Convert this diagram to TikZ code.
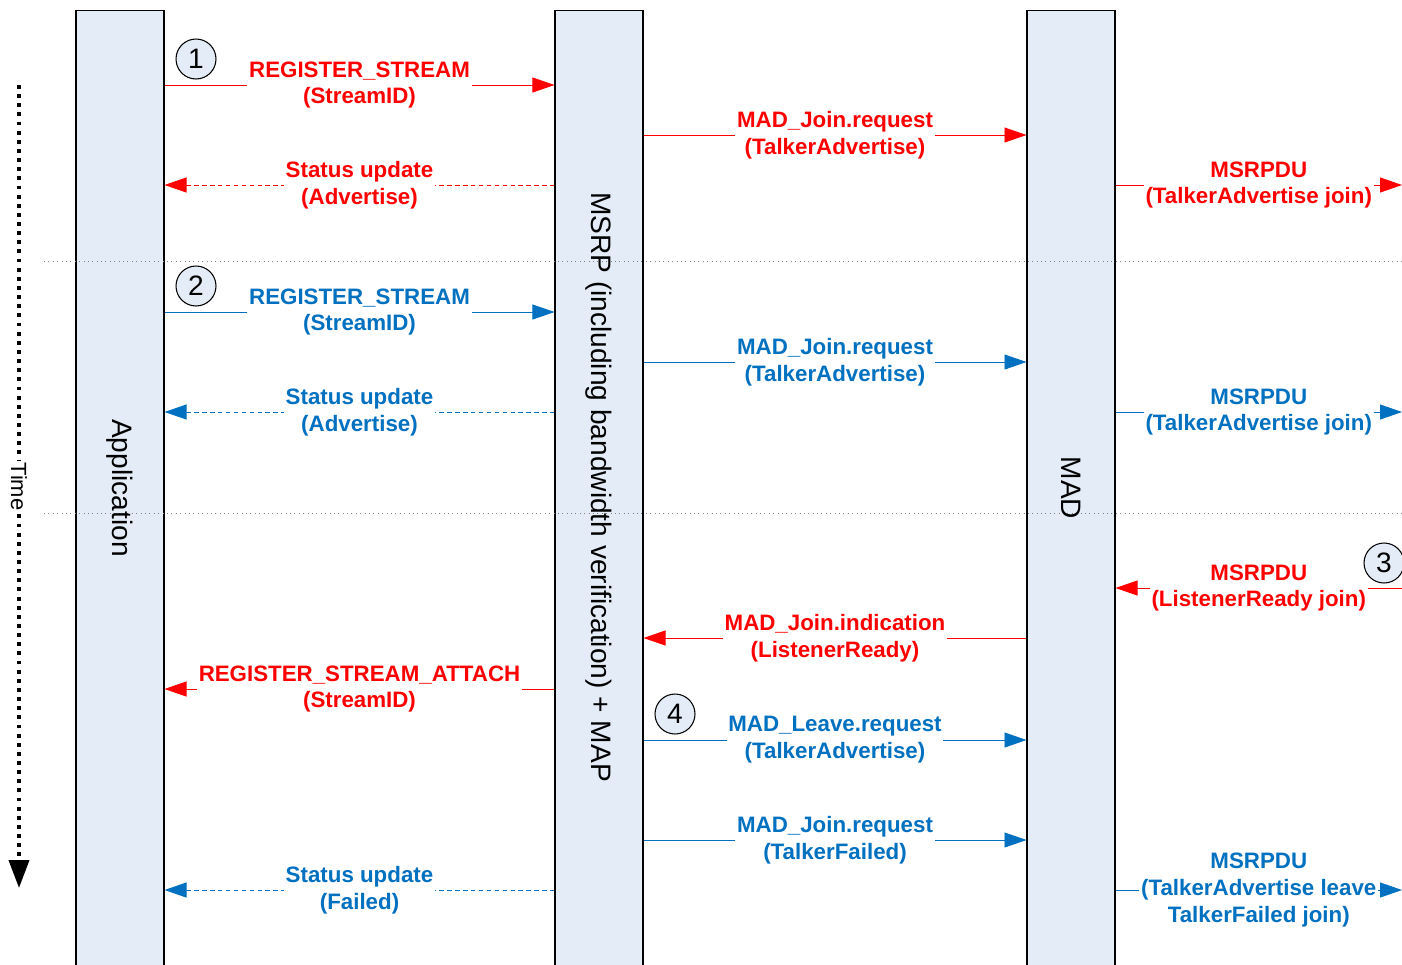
\documentclass[tikz,border=0pt]{standalone}
\usepackage{fontspec}
\setmainfont{Liberation Sans}
\usetikzlibrary{arrows.meta, positioning}
\definecolor{lanefill}{RGB}{228,236,247}
\definecolor{msgred}{RGB}{255,0,0}
\definecolor{msgblue}{RGB}{0,112,192}

\begin{document}
\begin{tikzpicture}[x=0.02cm, y=-0.02cm,
  lane/.style={draw=black, fill=lanefill, line width=0.6pt, minimum width=1.76cm, minimum height=19.6cm, inner sep=0pt},
  lanetext/.style={rotate=-90, font=\fontsize{16}{19}\selectfont},
  msg/.style={fill=white, align=center, inner xsep=1pt, inner ysep=0pt, font=\bfseries\fontsize{12.7}{15.3}\selectfont},
  req/.style={line width=0.5pt, -{Triangle[length=0.44cm, width=0.3cm]}},
  ind/.style={req, dash pattern=on 2.5pt off 2pt},
  stepmark/.style={circle, draw=black, fill=lanefill, line width=0.6pt, minimum size=0.8cm, inner sep=0pt, font=\fontsize{16}{19}\selectfont},
  sep/.style={dotted, gray, line width=0.5pt}
]
\useasboundingbox (0,0) rectangle (1402,964);
\clip (0,0) rectangle (1402,964);

% Draw the lanes
\node[lane] (app) at (120,500) {};
\node[lane] (msrp) at (599,500) {};
\node[lane] (mad) at (1071,500) {};

% Right edge and message rows
\coordinate (edge) at (1402,0);
\coordinate (r1) at (0,85);
\coordinate (r2) at (0,135);
\coordinate (r3) at (0,185);
\coordinate (r4) at (0,312);
\coordinate (r5) at (0,362);
\coordinate (r6) at (0,412);
\coordinate (r7) at (0,588);
\coordinate (r8) at (0,638);
\coordinate (r9) at (0,689);
\coordinate (r10) at (0,740);
\coordinate (r11) at (0,840);
\coordinate (r12) at (0,890);

% Draw the dotted separators
\coordinate (sepa) at (44,261);
\coordinate (sepb) at (44,513);
\draw[sep] (sepa) -- (sepa -| edge);
\draw[sep] (sepb) -- (sepb -| edge);

% Lane labels
\node[lanetext] (applbl) at (120,488) {Application};
\node[lanetext] (msrplbl) at (599,487) {MSRP (including bandwidth verification) + MAP};
\node[lanetext] (madlbl) at (1071,488) {MAD};

% Time arrow
\coordinate (tstart) at (19,85);
\coordinate (tend) at (19,888);
\draw[line width=2.2pt, dash pattern=on 2.2pt off 3pt, -{Triangle[length=0.56cm, width=0.4cm]}] (tstart) -- node[fill=white, rotate=-90, inner xsep=1pt, inner ysep=0pt, font=\fontsize{12.5}{15}\selectfont] (timelbl) {Time} (tend);

% First part: talker advertise
\draw[req, msgred] (app.east |- r1) -- node[msg] (m1) {REGISTER\_STREAM\\(StreamID)} (msrp.west |- r1);
\draw[req, msgred] (msrp.east |- r2) -- node[msg] (m2) {MAD\_Join.request\\(TalkerAdvertise)} (mad.west |- r2);
\draw[ind, msgred] (msrp.west |- r3) -- node[msg] (m3) {Status update\\(Advertise)} (app.east |- r3);
\draw[req, msgred] (mad.east |- r3) -- node[msg] (m4) {MSRPDU\\(TalkerAdvertise join)} (edge |- r3);

% Second part
\draw[req, msgblue] (app.east |- r4) -- node[msg] (m5) {REGISTER\_STREAM\\(StreamID)} (msrp.west |- r4);
\draw[req, msgblue] (msrp.east |- r5) -- node[msg] (m6) {MAD\_Join.request\\(TalkerAdvertise)} (mad.west |- r5);
\draw[ind, msgblue] (msrp.west |- r6) -- node[msg] (m7) {Status update\\(Advertise)} (app.east |- r6);
\draw[req, msgblue] (mad.east |- r6) -- node[msg] (m8) {MSRPDU\\(TalkerAdvertise join)} (edge |- r6);

% Third part: listener ready
\draw[req, msgred] (edge |- r7) -- node[msg] (m9) {MSRPDU\\(ListenerReady join)} (mad.east |- r7);
\draw[req, msgred] (mad.west |- r8) -- node[msg] (m10) {MAD\_Join.indication\\(ListenerReady)} (msrp.east |- r8);
\draw[req, msgred] (msrp.west |- r9) -- node[msg] (m11) {REGISTER\_STREAM\_ATTACH\\(StreamID)} (app.east |- r9);
\draw[req, msgblue] (msrp.east |- r10) -- node[msg] (m12) {MAD\_Leave.request\\(TalkerAdvertise)} (mad.west |- r10);
\draw[req, msgblue] (msrp.east |- r11) -- node[msg] (m13) {MAD\_Join.request\\(TalkerFailed)} (mad.west |- r11);
\draw[ind, msgblue] (msrp.west |- r12) -- node[msg] (m14) {Status update\\(Failed)} (app.east |- r12);
\draw[req, msgblue] (mad.east |- r12) -- node[msg] (m15) {MSRPDU\\(TalkerAdvertise leave\\TalkerFailed join)} (edge |- r12);

% Step numbers
\node[stepmark] (s1) at (196,59) {1};
\node[stepmark] (s2) at (196,286) {2};
\node[stepmark] (s3) at (1384,563) {3};
\node[stepmark] (s4) at (675,714) {4};

\end{tikzpicture}
\end{document}
